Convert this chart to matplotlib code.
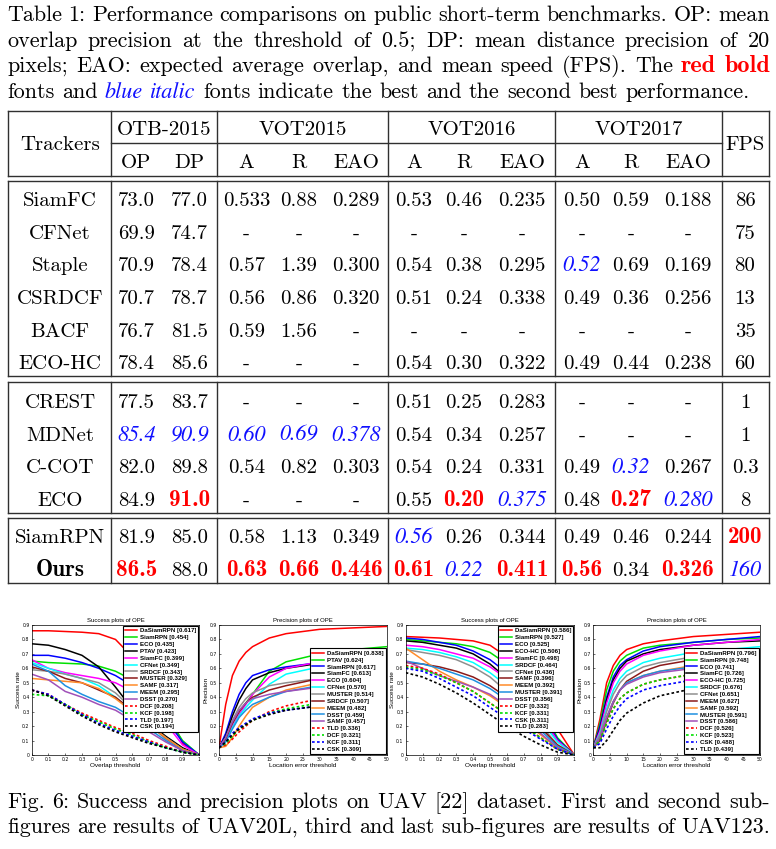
import matplotlib
matplotlib.use('Agg')
import matplotlib.pyplot as plt

# ---------------- data ----------------
caption_top = [
    [("Table 1: Performance comparisons on public short-term benchmarks. OP: mean", 'n')],
    [("overlap precision at the threshold of 0.5; DP: mean distance precision of 20", 'n')],
    [("pixels; EAO: expected average overlap, and mean speed (FPS). The", 'n'), ("red bold", 'r')],
    [("fonts and", 'n'), ("blue italic", 'b'), ("fonts indicate the best and the second best performance.", 'n')],
]
caption_bottom = [
    [("Fig. 6: Success and precision plots on UAV [22] dataset. First and second sub-", 'n')],
    [("figures are results of UAV20L, third and last sub-figures are results of UAV123.", 'n')],
]

group_headers = ["OTB-2015", "VOT2015", "VOT2016", "VOT2017"]
sub_headers = ["OP", "DP", "A", "R", "EAO", "A", "R", "EAO", "A", "R", "EAO"]

trackers = ["SiamFC", "CFNet", "Staple", "CSRDCF", "BACF", "ECO-HC",
            "CREST", "MDNet", "C-COT", "ECO",
            "SiamRPN", "Ours"]
table_values = [
    ["73.0", "77.0", "0.533", "0.88", "0.289", "0.53", "0.46", "0.235", "0.50", "0.59", "0.188", "86"],
    ["69.9", "74.7", "-", "-", "-", "-", "-", "-", "-", "-", "-", "75"],
    ["70.9", "78.4", "0.57", "1.39", "0.300", "0.54", "0.38", "0.295", "0.52", "0.69", "0.169", "80"],
    ["70.7", "78.7", "0.56", "0.86", "0.320", "0.51", "0.24", "0.338", "0.49", "0.36", "0.256", "13"],
    ["76.7", "81.5", "0.59", "1.56", "-", "-", "-", "-", "-", "-", "-", "35"],
    ["78.4", "85.6", "-", "-", "-", "0.54", "0.30", "0.322", "0.49", "0.44", "0.238", "60"],
    ["77.5", "83.7", "-", "-", "-", "0.51", "0.25", "0.283", "-", "-", "-", "1"],
    ["85.4", "90.9", "0.60", "0.69", "0.378", "0.54", "0.34", "0.257", "-", "-", "-", "1"],
    ["82.0", "89.8", "0.54", "0.82", "0.303", "0.54", "0.24", "0.331", "0.49", "0.32", "0.267", "0.3"],
    ["84.9", "91.0", "-", "-", "-", "0.55", "0.20", "0.375", "0.48", "0.27", "0.280", "8"],
    ["81.9", "85.0", "0.58", "1.13", "0.349", "0.56", "0.26", "0.344", "0.49", "0.46", "0.244", "200"],
    ["86.5", "88.0", "0.63", "0.66", "0.446", "0.61", "0.22", "0.411", "0.56", "0.34", "0.326", "160"],
]
# (row, col) of best and second best results
best_cells = [(9, 1), (9, 6), (9, 9), (10, 11), (11, 0), (11, 2), (11, 3), (11, 4),
              (11, 5), (11, 7), (11, 8), (11, 10)]
second_cells = [(2, 8), (7, 0), (7, 1), (7, 2), (7, 3), (7, 4), (8, 9), (9, 7),
                (9, 10), (10, 5), (11, 6), (11, 11)]

x_succ = [0.0, 0.1, 0.2, 0.3, 0.4, 0.5, 0.6, 0.7, 0.8, 0.9, 1.0]
x_prec = [0, 2, 4, 6, 8, 10, 15, 20, 30, 40, 50]

uav20l_succ_names = ["DaSiamRPN", "SiamRPN", "ECO", "PTAV", "SiamFC", "CFNet", "SRDCF", "MUSTER",
                     "SAMF", "MEEM", "DSST", "DCF", "KCF", "TLD", "CSK"]
uav20l_succ_scores = [0.617, 0.454, 0.435, 0.423, 0.399, 0.349, 0.343, 0.329, 0.317, 0.295, 0.270,
                      0.208, 0.198, 0.197, 0.194]
uav20l_succ_values = [
    [.86, .86, .855, .85, .84, .80, .68, .54, .34, .08, 0],
    [.65, .64, .635, .63, .615, .58, .52, .42, .28, .10, 0],
    [.69, .69, .67, .64, .60, .55, .48, .38, .25, .09, 0],
    [.77, .76, .73, .69, .61, .47, .32, .22, .13, .05, 0],
    [.66, .60, .57, .55, .53, .50, .44, .35, .22, .07, 0],
    [.64, .60, .56, .53, .48, .40, .30, .21, .12, .04, 0],
    [.59, .58, .56, .53, .50, .43, .32, .21, .11, .04, 0],
    [.61, .58, .53, .50, .45, .40, .31, .21, .12, .04, 0],
    [.53, .52, .51, .50, .46, .39, .30, .21, .12, .04, 0],
    [.63, .58, .48, .42, .37, .33, .26, .18, .10, .03, 0],
    [.56, .52, .44, .40, .35, .31, .24, .16, .09, .03, 0],
    [.45, .42, .35, .29, .24, .19, .15, .10, .06, .02, 0],
    [.42, .41, .35, .28, .23, .18, .14, .09, .05, .02, 0],
    [.45, .42, .35, .28, .22, .17, .13, .09, .05, .02, 0],
    [.45, .41, .34, .27, .21, .16, .12, .08, .05, .02, 0],
]

uav20l_prec_names = ["DaSiamRPN", "PTAV", "SiamRPN", "SiamFC", "ECO", "CFNet", "MUSTER", "SRDCF",
                     "MEEM", "DSST", "SAMF", "TLD", "DCF", "KCF", "CSK"]
uav20l_prec_scores = [0.838, 0.624, 0.617, 0.613, 0.604, 0.570, 0.514, 0.507, 0.482, 0.459, 0.457,
                      0.336, 0.321, 0.311, 0.309]
uav20l_prec_values = [
    [.05, .35, .55, .65, .71, .75, .81, .84, .87, .88, .89],
    [.05, .12, .22, .30, .36, .42, .58, .645, .70, .73, .75],
    [.05, .15, .30, .42, .50, .55, .59, .61, .64, .66, .68],
    [.05, .13, .27, .38, .46, .52, .57, .60, .635, .655, .675],
    [.05, .10, .20, .28, .35, .42, .54, .60, .645, .665, .68],
    [.05, .10, .19, .27, .33, .38, .49, .56, .61, .64, .66],
    [.05, .12, .24, .33, .39, .43, .48, .50, .53, .55, .56],
    [.05, .11, .22, .30, .36, .40, .45, .48, .53, .55, .56],
    [.05, .06, .12, .20, .27, .33, .40, .45, .50, .53, .54],
    [.05, .09, .18, .26, .31, .35, .40, .44, .48, .50, .51],
    [.05, .12, .23, .31, .36, .39, .42, .44, .47, .49, .50],
    [.05, .07, .11, .16, .20, .24, .30, .34, .39, .42, .44],
    [.05, .08, .13, .18, .21, .24, .29, .32, .36, .39, .42],
    [.05, .09, .15, .19, .22, .25, .29, .31, .34, .37, .40],
    [.05, .09, .14, .18, .21, .24, .28, .31, .34, .36, .38],
]

uav123_succ_names = ["DaSiamRPN", "SiamRPN", "ECO", "ECO-HC", "SiamFC", "SRDCF", "CFNet", "SAMF",
                     "MEEM", "MUSTER", "DSST", "DCF", "KCF", "CSK", "TLD"]
uav123_succ_scores = [0.586, 0.527, 0.525, 0.506, 0.498, 0.464, 0.436, 0.396, 0.392, 0.391, 0.356,
                      0.332, 0.331, 0.311, 0.283]
uav123_succ_values = [
    [.82, .815, .81, .80, .79, .76, .68, .58, .42, .18, 0],
    [.80, .79, .78, .77, .75, .71, .63, .50, .34, .12, 0],
    [.81, .80, .78, .76, .72, .66, .57, .45, .30, .11, 0],
    [.79, .78, .76, .74, .70, .63, .53, .42, .28, .10, 0],
    [.76, .75, .73, .70, .67, .61, .53, .42, .28, .10, 0],
    [.74, .73, .71, .68, .64, .57, .48, .37, .24, .09, 0],
    [.73, .71, .69, .66, .61, .54, .44, .33, .21, .07, 0],
    [.64, .63, .61, .58, .54, .48, .40, .30, .19, .07, 0],
    [.74, .66, .58, .52, .47, .41, .33, .24, .14, .05, 0],
    [.65, .63, .60, .56, .52, .46, .38, .28, .17, .06, 0],
    [.65, .60, .55, .51, .47, .42, .34, .25, .15, .05, 0],
    [.62, .60, .56, .50, .44, .36, .28, .20, .12, .04, 0],
    [.61, .59, .55, .50, .44, .36, .28, .20, .12, .04, 0],
    [.60, .58, .53, .47, .41, .33, .25, .18, .11, .04, 0],
    [.57, .54, .49, .43, .36, .28, .20, .13, .07, .02, 0],
]

uav123_prec_names = ["DaSiamRPN", "SiamRPN", "ECO", "SiamFC", "ECO-HC", "SRDCF", "CFNet", "MEEM",
                     "SAMF", "MUSTER", "DSST", "DCF", "KCF", "CSK", "TLD"]
uav123_prec_scores = [0.796, 0.748, 0.741, 0.726, 0.725, 0.676, 0.651, 0.627, 0.592, 0.591, 0.586,
                      0.526, 0.523, 0.488, 0.439]
uav123_prec_values = [
    [.05, .25, .50, .62, .69, .73, .77, .79, .82, .835, .85],
    [.05, .22, .45, .58, .65, .69, .74, .76, .78, .80, .81],
    [.05, .20, .40, .54, .62, .66, .72, .75, .78, .80, .82],
    [.05, .18, .38, .52, .60, .65, .70, .73, .76, .78, .79],
    [.05, .17, .36, .50, .58, .63, .69, .72, .76, .78, .80],
    [.05, .15, .32, .45, .53, .58, .64, .67, .71, .73, .75],
    [.05, .14, .30, .42, .50, .55, .61, .64, .68, .70, .71],
    [.05, .10, .24, .36, .45, .51, .58, .62, .66, .69, .70],
    [.05, .12, .26, .37, .45, .50, .55, .58, .62, .64, .65],
    [.05, .12, .26, .37, .45, .50, .55, .58, .61, .63, .64],
    [.05, .12, .26, .37, .45, .49, .54, .57, .60, .62, .64],
    [.05, .10, .22, .32, .39, .43, .49, .52, .56, .58, .60],
    [.05, .10, .22, .32, .39, .43, .49, .52, .56, .58, .59],
    [.05, .08, .18, .27, .34, .39, .45, .48, .52, .54, .56],
    [.05, .05, .10, .17, .24, .29, .36, .41, .46, .49, .52],
]

# ---------------- styles / layout ----------------
W, H = 776, 849
fig = plt.figure(figsize=(W / 100, H / 100), dpi=100)
bg = fig.add_axes([0, 0, 1, 1])
bg.set_xlim(0, W)
bg.set_ylim(H, 0)
bg.axis('off')
renderer = fig.canvas.get_renderer()

RED = '#ff0000'
BLUE = '#1010ff'


def seg_props(style):
    if style == 'r':
        return dict(family='cmb10', color=RED)
    if style == 'b':
        return dict(family='STIXGeneral', style='italic', color=BLUE)
    if style == 'k':
        return dict(family='cmb10', color='black')
    return dict(family='cmr10', color='black')


def draw_line(segments, y, x0, x1, fs, justify=True):
    words = []
    for text, st in segments:
        for w in text.split():
            words.append((w, st))
    arts, widths = [], []
    for w, st in words:
        f = fs * 1.1 if st == 'r' else fs
        t = bg.text(0, y, w, fontsize=f, va='baseline', ha='left', **seg_props(st))
        widths.append(t.get_window_extent(renderer).width)
        arts.append(t)
    if justify:
        gap = (x1 - x0 - sum(widths)) / (len(words) - 1)
    else:
        gap = fs * 100 / 72 * 0.333
    x = x0
    for t, wd in zip(arts, widths):
        t.set_x(x)
        x += wd + gap


CAP_FS = 15.9
top_baselines = [21, 46.5, 72, 97.5]
for i, seg in enumerate(caption_top):
    draw_line(seg, top_baselines[i], 7, 770, CAP_FS, justify=(i < len(caption_top) - 1))
bot_baselines = [808, 833]
for i, seg in enumerate(caption_bottom):
    draw_line(seg, bot_baselines[i], 7, 770, CAP_FS, justify=True)

# ---- table ----
TFS = 15
BFS = 16.6
LC = '#303030'
LW = 1.0
vx = [8, 110.7, 217.3, 388.3, 555, 721.7, 769.3]
blocks = [(111, 175.5), (181, 376), (381.7, 512.7), (518, 583.3)]
for (y0, y1) in blocks:
    bg.plot([vx[0], vx[-1]], [y0, y0], color=LC, lw=LW, solid_capstyle='projecting')
    bg.plot([vx[0], vx[-1]], [y1, y1], color=LC, lw=LW, solid_capstyle='projecting')
    for x in vx:
        bg.plot([x, x], [y0, y1], color=LC, lw=LW)
bg.plot([vx[1], vx[5]], [143, 143], color=LC, lw=LW)

col_x = [136.5, 189.5, 246.5, 299, 356, 414, 464, 522, 582, 631, 688, 745]
track_x = 60
half = 7.2
# header
bg.text(track_x, 143 + half, "Trackers", ha='center', va='baseline', fontsize=TFS, family='cmr10')
bg.text(col_x[-1], 143 + half, "FPS", ha='center', va='baseline', fontsize=TFS, family='cmr10')
for g, name in enumerate(group_headers):
    cx = (vx[g + 1] + vx[g + 2]) / 2
    bg.text(cx, 127.5 + half, name, ha='center', va='baseline', fontsize=TFS, family='cmr10')
for c, name in enumerate(sub_headers):
    bg.text(col_x[c], 160.5 + half, name, ha='center', va='baseline', fontsize=TFS, family='cmr10')

row_y = [199, 231.6, 264.2, 296.8, 329.4, 362,
         400.7, 433.3, 465.9, 498.5,
         536, 568.7]
for r, name in enumerate(trackers):
    st = 'k' if name == "Ours" else 'n'
    bg.text(track_x, row_y[r] + half, name, ha='center', va='baseline',
            fontsize=BFS if st == 'k' else TFS, **seg_props(st))
    for c, v in enumerate(table_values[r]):
        st = 'n'
        fs = TFS
        if (r, c) in best_cells:
            st = 'r'
            fs = BFS
        elif (r, c) in second_cells:
            st = 'b'
            fs = TFS + 0.8
        bg.text(col_x[c], row_y[r] + half, v, ha='center', va='baseline', fontsize=fs, **seg_props(st))

# ---- plots ----
rank_styles = [
    ('#ff0000', '-'), ('#00e000', '-'), ('#0000ff', '-'), ('#000000', '-'),
    ('#ff00ff', '-'), ('#00ffff', '-'), ('#909090', '-'), ('#8b1a1a', '-'),
    ('#ff8c2a', '-'), ('#1e90e0', '-'), ('#a050b8', '-'),
    ('#ff0000', (0, (1.6, 1.4))), ('#00e000', (0, (1.6, 1.4))),
    ('#0000ff', (0, (1.6, 1.4))), ('#000000', (0, (1.6, 1.4))),
]


def px_rect(l, r, t, b):
    return [l / W, 1 - b / H, (r - l) / W, (b - t) / H]


def make_plot(rect, xs, values, names, scores, title, xlabel, ylabel, xlim, xticks, loc):
    ax = fig.add_axes(rect)
    for i, vals in enumerate(values):
        col, ls = rank_styles[i]
        lw = 1.1 if ls == '-' else 1.2
        ax.plot(xs, vals, color=col, linestyle=ls, lw=lw,
                label="%s [%.3f]" % (names[i], scores[i]))
    ax.set_xlim(*xlim)
    ax.set_ylim(0, 0.9)
    ax.set_xticks(xticks)
    ax.set_yticks([0, .1, .2, .3, .4, .5, .6, .7, .8, .9])
    ax.set_yticklabels(['0', '0.1', '0.2', '0.3', '0.4', '0.5', '0.6', '0.7', '0.8', '0.9'])
    ax.tick_params(direction='in', length=1.5, width=0.4, labelsize=3.3, pad=1.5)
    for s in ax.spines.values():
        s.set_linewidth(0.5)
    ax.set_title(title, fontsize=4.3, pad=2.5, family='Liberation Sans')
    ax.set_xlabel(xlabel, fontsize=4.6, labelpad=0.5, family='Liberation Sans')
    ax.set_ylabel(ylabel, fontsize=4.6, labelpad=1, family='Liberation Sans')
    leg = ax.legend(loc=loc, prop=dict(family='Liberation Sans', weight='bold', size=4.4),
                    handlelength=1.9, handletextpad=0.5, labelspacing=0.26, borderpad=0.35,
                    borderaxespad=0.15, fancybox=False, framealpha=1, edgecolor='black')
    leg.get_frame().set_linewidth(0.8)
    return ax


succ_ticks = [0, .1, .2, .3, .4, .5, .6, .7, .8, .9, 1]
prec_ticks = [0, 5, 10, 15, 20, 25, 30, 35, 40, 45, 50]
ax1 = make_plot(px_rect(31.7, 199.3, 625, 755), x_succ, uav20l_succ_values, uav20l_succ_names,
                uav20l_succ_scores, "Success plots of OPE", "Overlap threshold", "Success rate",
                (0, 1), succ_ticks, 'upper right')
ax1.set_xticklabels(['0', '0.1', '0.2', '0.3', '0.4', '0.5', '0.6', '0.7', '0.8', '0.9', '1'])
ax2 = make_plot(px_rect(219, 386.7, 625, 755), x_prec, uav20l_prec_values, uav20l_prec_names,
                uav20l_prec_scores, "Precision plots of OPE", "Location error threshold", "Precision",
                (0, 50), prec_ticks, 'lower right')
ax3 = make_plot(px_rect(405.7, 574.3, 625, 755), x_succ, uav123_succ_values, uav123_succ_names,
                uav123_succ_scores, "Success plots of OPE", "Overlap threshold", "Success rate",
                (0, 1), succ_ticks, 'upper right')
ax3.set_xticklabels(['0', '0.1', '0.2', '0.3', '0.4', '0.5', '0.6', '0.7', '0.8', '0.9', '1'])
ax4 = make_plot(px_rect(593.3, 760, 625, 755), x_prec, uav123_prec_values, uav123_prec_names,
                uav123_prec_scores, "Precision plots of OPE", "Location error threshold", "Precision",
                (0, 50), prec_ticks, 'lower right')

fig.savefig('out.png', dpi=100)
